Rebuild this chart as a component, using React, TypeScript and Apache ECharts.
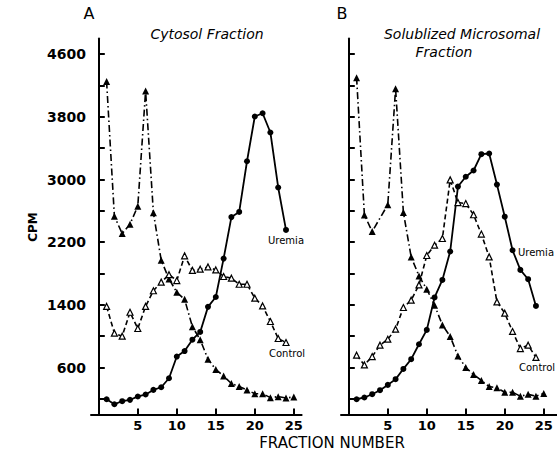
import React, { useEffect, useRef } from "react";
import * as echarts from "echarts";

// Fraction numbers
const fractions = [1, 2, 3, 4, 5, 6, 7, 8, 9, 10, 11, 12, 13, 14, 15, 16, 17, 18, 19, 20, 21, 22, 23, 24, 25];

// Panel A: Cytosol Fraction
const aUremia = [195, 131, 170, 187, 230, 255, 314, 348, 463, 740, 810, 955, 1054, 1374, 1500, 1990, 2520, 2586, 3233, 3804, 3846, 3600, 2898, 2356];
const aControl = [1380, 1038, 1000, 1305, 1098, 1380, 1580, 1690, 1785, 1710, 2025, 1840, 1855, 1884, 1846, 1762, 1740, 1663, 1663, 1485, 1386, 1187, 970, 919];
const aMarker = [4250, 2530, 2310, 2430, 2660, 4130, 2575, 1970, 1730, 1560, 1470, 1120, 955, 706, 575, 490, 395, 357, 314, 265, 265, 215, 228, 210, 225];

// Panel B: Solublized Microsomal Fraction
const bUremia = [195, 217, 259, 310, 378, 451, 582, 706, 897, 1080, 1494, 1718, 2081, 2910, 3035, 3115, 3323, 3332, 2935, 2525, 2097, 1846, 1727, 1386];
const bControl = [757, 633, 740, 885, 961, 1089, 1366, 1459, 1654, 2030, 2161, 2247, 2995, 2706, 2693, 2550, 2303, 2012, 1437, 1293, 1060, 842, 885, 728];
const bMarker = [4300, 2548, 2336, null, 2678, 4160, 2580, 2010, 1769, 1599, 1395, 1144, 996, 748, 600, 510, 435, 357, 340, 285, 285, 233, 257, 233, 268];

// Axis ticks and labels
const yTickValues = [200, 600, 1000, 1400, 1800, 2200, 2600, 3000, 3400, 3800, 4200, 4600];
const yLabelValues = [600, 1400, 2200, 3000, 3800, 4600];
const xTickValues = [5, 10, 15, 20, 25];

const FONT = "DejaVu Sans";

function pairs(vals: (number | null)[]) {
  const out: number[][] = [];
  vals.forEach((v, i) => {
    if (v !== null) out.push([fractions[i], v]);
  });
  return out;
}

function xAxisFor(gridIndex: number, max: number) {
  return {
    type: "value",
    gridIndex,
    min: -1,
    max,
    axisLine: { show: true, lineStyle: { color: "#000", width: 2 } },
    axisTick: { show: true, inside: true, length: 6, customValues: xTickValues, lineStyle: { color: "#000", width: 2 } },
    axisLabel: {
      show: true,
      customValues: xTickValues,
      formatter: (v: number) => String(v),
      color: "#000",
      fontFamily: FONT,
      fontSize: 13,
      fontWeight: "bold",
      margin: 4,
    },
    splitLine: { show: false },
  };
}

function yAxisFor(gridIndex: number, showLabels: boolean) {
  return {
    type: "value",
    gridIndex,
    min: 0,
    max: 4800,
    axisLine: { show: true, lineStyle: { color: "#000", width: 2 } },
    axisTick: { show: true, inside: true, length: 6, customValues: yTickValues, lineStyle: { color: "#000", width: 2 } },
    axisLabel: {
      show: showLabels,
      customValues: yLabelValues,
      formatter: (v: number) => String(v),
      color: "#000",
      fontFamily: FONT,
      fontSize: 14,
      fontWeight: "bold",
      margin: 5,
    },
    splitLine: { show: false },
  };
}

function uremiaSeries(data: number[], idx: number) {
  return {
    type: "line",
    xAxisIndex: idx,
    yAxisIndex: idx,
    data: pairs(data),
    symbol: "circle",
    symbolSize: 6,
    itemStyle: { color: "#000" },
    lineStyle: { color: "#000", width: 1.8, type: "solid" },
    z: 3,
  };
}

function controlSeries(data: number[], idx: number) {
  return {
    type: "line",
    xAxisIndex: idx,
    yAxisIndex: idx,
    data: pairs(data),
    symbol: "triangle",
    symbolSize: 6,
    itemStyle: { color: "#fff", borderColor: "#000", borderWidth: 1.2 },
    lineStyle: { color: "#000", width: 1.6, type: [5, 3] },
    z: 4,
  };
}

function markerSeries(data: (number | null)[], idx: number) {
  return {
    type: "line",
    xAxisIndex: idx,
    yAxisIndex: idx,
    data: pairs(data),
    symbol: "triangle",
    symbolSize: 7,
    itemStyle: { color: "#000" },
    lineStyle: { color: "#000", width: 1.6, type: [7, 3, 1.5, 3] },
    z: 2,
  };
}

function txt(x: number, y: number, text: string, font: string, align = "left", rotation = 0) {
  return {
    type: "text",
    x,
    y,
    rotation,
    style: { text, font, fill: "#000", textAlign: align, textVerticalAlign: "middle" },
  };
}

export default function App() {
  const ref = useRef<HTMLDivElement>(null);
  useEffect(() => {
    if (!ref.current) return;
    const chart = echarts.init(ref.current, null, { renderer: "svg" });
    const option = {
      animation: false,
      backgroundColor: "#fff",
      grid: [
        { left: 91, top: 38.5, width: 210.6, height: 376 },
        { left: 341, top: 38.5, width: 216, height: 376 },
      ],
      xAxis: [xAxisFor(0, 26), xAxisFor(1, 26.7)],
      yAxis: [yAxisFor(0, true), yAxisFor(1, false)],
      series: [
        markerSeries(aMarker, 0),
        controlSeries(aControl, 0),
        uremiaSeries(aUremia, 0),
        markerSeries(bMarker, 1),
        controlSeries(bControl, 1),
        uremiaSeries(bUremia, 1),
      ],
      graphic: [
        txt(89, 13, "A", `16px "${FONT}"`, "center"),
        txt(207, 34, "Cytosol Fraction", `italic 14px "${FONT}"`, "center"),
        txt(342, 13, "B", `16px "${FONT}"`, "center"),
        txt(462, 34, "Solublized Microsomal", `italic 14px "${FONT}"`, "center"),
        txt(444, 52, "Fraction", `italic 14px "${FONT}"`, "center"),
        txt(33, 227, "CPM", `bold 12px "${FONT}"`, "center", Math.PI / 2),
        txt(332, 443, "FRACTION NUMBER", `15px "${FONT}"`, "center"),
        txt(268, 240, "Uremia", `10px "${FONT}"`, "left"),
        txt(269, 353, "Control", `10px "${FONT}"`, "left"),
        txt(518, 252, "Uremia", `10px "${FONT}"`, "left"),
        txt(519, 367, "Control", `10px "${FONT}"`, "left"),
      ],
    };
    chart.setOption(option as any);
    return () => chart.dispose();
  }, []);
  return (
    <div
      ref={ref}
      style={{ position: "fixed", left: 0, top: 0, width: 557, height: 462, background: "#fff" }}
    />
  );
}
